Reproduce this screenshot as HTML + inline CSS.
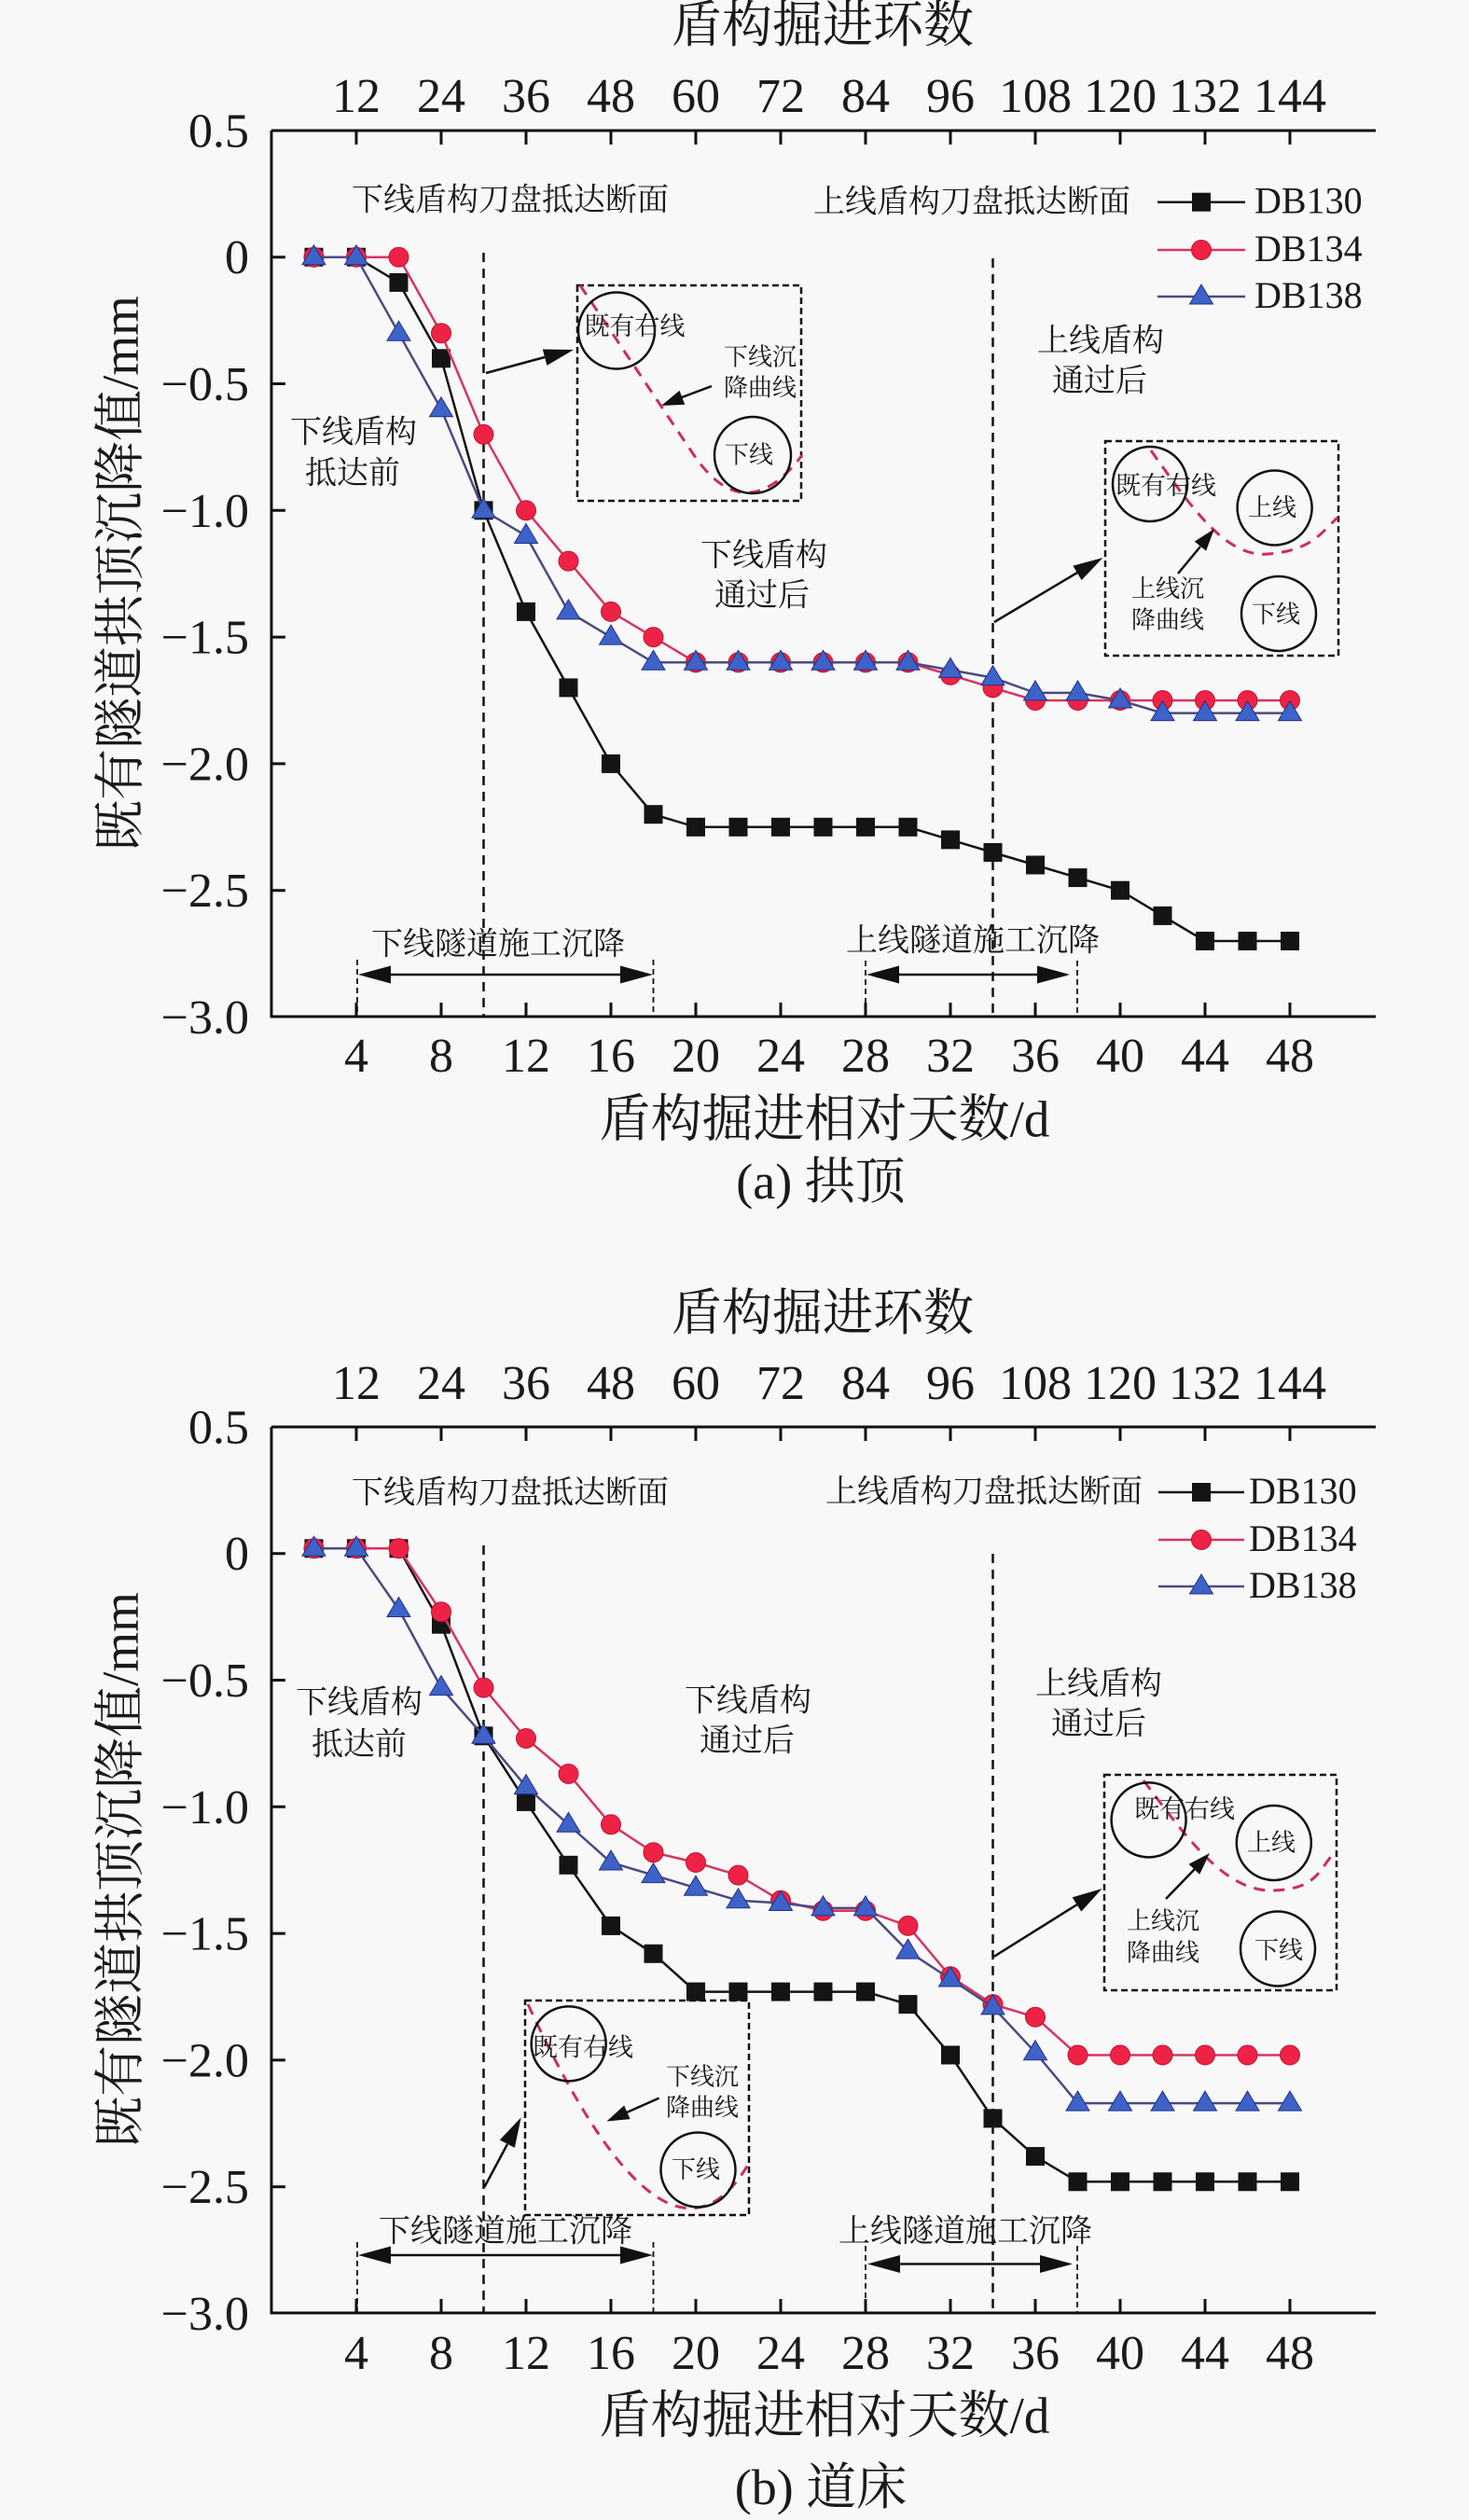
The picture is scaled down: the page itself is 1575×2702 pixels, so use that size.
<!DOCTYPE html>
<html><head><meta charset="utf-8"><style>
html,body{margin:0;padding:0;background:#f8f8f8;}
svg{display:block;}
text{font-family:"Liberation Serif","Noto Serif CJK SC",serif;fill:#1a1a1a;}
</style></head><body>
<svg width="1575" height="2702" viewBox="0 0 1575 2702" xmlns="http://www.w3.org/2000/svg">
<defs>
<marker id="sq" markerWidth="24" markerHeight="24" refX="12" refY="12" markerUnits="userSpaceOnUse" overflow="visible"><rect x="2" y="2" width="20" height="20" fill="#141414"/></marker>
<marker id="ci" markerWidth="24" markerHeight="24" refX="12" refY="12" markerUnits="userSpaceOnUse" overflow="visible"><circle cx="12" cy="12" r="10.5" fill="#ee2244" stroke="#b81838" stroke-width="1"/></marker>
<marker id="tr" markerWidth="26" markerHeight="26" refX="13" refY="14" markerUnits="userSpaceOnUse" overflow="visible"><polygon points="13,1 25.5,22 0.5,22" fill="#3d62c8" stroke="#24308a" stroke-width="1"/></marker>
</defs>
<rect width="1575" height="2702" fill="#f8f8f8"/>

<!-- ================= CHART A ================= -->
<g>
<text x="882" y="27" font-size="54" text-anchor="middle" dominant-baseline="central">盾构掘进环数</text>
<g font-size="52" text-anchor="middle">
<text x="382" y="120">12</text><text x="473" y="120">24</text><text x="564" y="120">36</text><text x="655" y="120">48</text><text x="746" y="120">60</text><text x="837" y="120">72</text><text x="928" y="120">84</text><text x="1019" y="120">96</text><text x="1110" y="120">108</text><text x="1201" y="120">120</text><text x="1292" y="120">132</text><text x="1383" y="120">144</text>
</g>
<g font-size="52" text-anchor="end">
<text x="267" y="157.5">0.5</text><text x="267" y="293.2">0</text><text x="267" y="429">−0.5</text><text x="267" y="564.8">−1.0</text><text x="267" y="700.6">−1.5</text><text x="267" y="836.4">−2.0</text><text x="267" y="972.2">−2.5</text><text x="267" y="1108">−3.0</text>
</g>
<g font-size="52" text-anchor="middle">
<text x="382" y="1149">4</text><text x="473" y="1149">8</text><text x="564" y="1149">12</text><text x="655" y="1149">16</text><text x="746" y="1149">20</text><text x="837" y="1149">24</text><text x="928" y="1149">28</text><text x="1019" y="1149">32</text><text x="1110" y="1149">36</text><text x="1201" y="1149">40</text><text x="1292" y="1149">44</text><text x="1383" y="1149">48</text>
</g>
<text x="884" y="1200" font-size="55" text-anchor="middle" dominant-baseline="central">盾构掘进相对天数/d</text>
<text x="880" y="1267" font-size="54" text-anchor="middle" dominant-baseline="central">(a) 拱顶</text>
<text transform="translate(129,615) rotate(-90)" font-size="55" text-anchor="middle" dominant-baseline="central">既有隧道拱顶沉降值/mm</text>

<g stroke="#111" stroke-width="3" fill="none">
<path d="M291,140 H1475 M291,140 V1091 M290,1090 H1475"/>
<path d="M382,140v15M473,140v15M564,140v15M655,140v15M746,140v15M837,140v15M928,140v15M1019,140v15M1110,140v15M1201,140v15M1292,140v15M1383,140v15"/>
<path d="M382,1090v-15M473,1090v-15M564,1090v-15M655,1090v-15M746,1090v-15M837,1090v-15M928,1090v-15M1019,1090v-15M1110,1090v-15M1201,1090v-15M1292,1090v-15M1383,1090v-15"/>
<path d="M291,140h15M291,275.7h15M291,411.5h15M291,547.3h15M291,683.1h15M291,818.9h15M291,954.7h15"/>
</g>

<g stroke="#111" stroke-width="2.5" stroke-dasharray="10 7" fill="none">
<path d="M518.5,271 V1090 M1064.5,277 V1090"/>
</g>
<g stroke="#111" stroke-width="1.8" stroke-dasharray="6 4" fill="none">
<path d="M383,1029 V1090 M700.5,1029 V1090 M928,1030 V1090 M1155,1030 V1090"/>
</g>
<g stroke="#111" stroke-width="2.5"><path d="M415,1045 H669 M961,1045 H1115"/></g>
<g fill="#111">
<polygon points="384,1045 419,1035.5 419,1054.5"/><polygon points="700,1045 665,1035.5 665,1054.5"/>
<polygon points="929,1045 964,1035.5 964,1054.5"/><polygon points="1147,1045 1112,1035.5 1112,1054.5"/>
</g>
<g font-size="34" text-anchor="middle" dominant-baseline="central">
<text x="534" y="1013">下线隧道施工沉降</text>
<text x="1043" y="1009">上线隧道施工沉降</text>
<text x="547" y="215">下线盾构刀盘抵达断面</text>
<text x="1042" y="217">上线盾构刀盘抵达断面</text>
<text x="379" y="464">下线盾构</text><text x="378" y="508">抵达前</text>
<text x="819" y="596">下线盾构</text><text x="817" y="639">通过后</text>
<text x="1180" y="366">上线盾构</text><text x="1179" y="409">通过后</text>
</g>

<!-- inset box 1 -->
<rect x="619" y="306" width="240" height="231" fill="none" stroke="#111" stroke-width="2.5" stroke-dasharray="7 4"/>
<path d="M622,306 L742,485 Q798,570 860,488" fill="none" stroke="#d02a60" stroke-width="3" stroke-dasharray="12 9"/>
<g fill="none" stroke="#111" stroke-width="2.5"><circle cx="661" cy="354.5" r="41"/><circle cx="807" cy="488" r="41"/></g>
<g font-size="27" dominant-baseline="central">
<text x="626.5" y="350">既有右线</text>
<text x="776" y="383" font-size="26">下线沉</text><text x="776" y="416" font-size="26">降曲线</text>
<text x="803" y="488" font-size="26" text-anchor="middle">下线</text>
</g>
<g stroke="#111" stroke-width="2.5"><path d="M521,400 L584,383 M763,414 L731,426"/></g>
<g fill="#111"><polygon points="615,375 586.4,391.9 581.8,374.5"/><polygon points="709,435 734.3,433.8 728.5,418.8"/></g>

<!-- inset box 2 -->
<rect x="1185" y="473" width="250" height="230" fill="none" stroke="#111" stroke-width="2.5" stroke-dasharray="7 4"/>
<path d="M1234,483 C1280,548 1315,598 1360,594 S1415,573 1434,555" fill="none" stroke="#d02a60" stroke-width="3" stroke-dasharray="12 9"/>
<g fill="none" stroke="#111" stroke-width="2.5"><circle cx="1233" cy="519" r="40"/><circle cx="1366.6" cy="544.5" r="40"/><circle cx="1371" cy="658" r="40"/></g>
<g font-size="26" dominant-baseline="central">
<text x="1196" y="521" font-size="27">既有右线</text>
<text x="1364" y="544.5" text-anchor="middle">上线</text>
<text x="1368" y="659" text-anchor="middle">下线</text>
<text x="1213" y="631.5">上线沉</text><text x="1213" y="665">降曲线</text>
</g>
<g stroke="#111" stroke-width="2.5"><path d="M1066,667 L1155,614 M1263,615 L1287,586"/></g>
<g fill="#111"><polygon points="1182.5,598 1159.6,622 1150.4,606.6"/><polygon points="1302,567 1293.1,590.6 1280.7,580.6"/></g>

<!-- series A -->
<polyline fill="none" stroke="#141414" stroke-width="2.5" marker-start="url(#sq)" marker-mid="url(#sq)" marker-end="url(#sq)" points="336.5,275.7 382,275.7 427.5,302.9 473,384.3 518.5,547.3 564,655.9 609.5,737.4 655,818.9 700.5,873.2 746,886.8 791.5,886.8 837,886.8 882.5,886.8 928,886.8 973.5,886.8 1019,900.4 1064.5,914 1110,927.5 1155.5,941.1 1201,954.7 1246.5,981.9 1292,1009 1337.5,1009 1383,1009"/>
<polyline fill="none" stroke="#d8345e" stroke-width="2.5" marker-start="url(#ci)" marker-mid="url(#ci)" marker-end="url(#ci)" points="336.5,275.7 382,275.7 427.5,275.7 473,357.2 518.5,465.8 564,547.3 609.5,601.6 655,655.9 700.5,683.1 746,710.3 791.5,710.3 837,710.3 882.5,710.3 928,710.3 973.5,710.3 1019,723.8 1064.5,737.4 1110,751 1155.5,751 1201,751 1246.5,751 1292,751 1337.5,751 1383,751"/>
<polyline fill="none" stroke="#4a4a80" stroke-width="2.5" marker-start="url(#tr)" marker-mid="url(#tr)" marker-end="url(#tr)" points="336.5,275.7 382,275.7 427.5,357.2 473,438.7 518.5,547.3 564,574.5 609.5,655.9 655,683.1 700.5,710.3 746,710.3 791.5,710.3 837,710.3 882.5,710.3 928,710.3 973.5,710.3 1019,718.4 1064.5,726.6 1110,742.9 1155.5,742.9 1201,751 1246.5,764.6 1292,764.6 1337.5,764.6 1383,764.6"/>

<!-- legend A -->
<g stroke-width="2.5">
<line x1="1241" y1="216.7" x2="1335" y2="216.7" stroke="#141414"/>
<line x1="1241" y1="268" x2="1335" y2="268" stroke="#d8345e"/>
<line x1="1241" y1="318" x2="1335" y2="318" stroke="#4a4a80"/>
</g>
<rect x="1278" y="206.7" width="20" height="20" fill="#141414"/>
<circle cx="1288" cy="268" r="10.5" fill="#ee2244" stroke="#b81838" stroke-width="1"/>
<polygon points="1288,305 1300.5,326 1275.5,326" fill="#3d62c8" stroke="#24308a" stroke-width="1"/>
<g font-size="40">
<text x="1345" y="228.3">DB130</text><text x="1345" y="280">DB134</text><text x="1345" y="330">DB138</text>
</g>
</g>

<!-- ================= CHART B ================= -->
<g>
<text x="882" y="1408" font-size="54" text-anchor="middle" dominant-baseline="central">盾构掘进环数</text>
<g font-size="52" text-anchor="middle">
<text x="382" y="1500">12</text><text x="473" y="1500">24</text><text x="564" y="1500">36</text><text x="655" y="1500">48</text><text x="746" y="1500">60</text><text x="837" y="1500">72</text><text x="928" y="1500">84</text><text x="1019" y="1500">96</text><text x="1110" y="1500">108</text><text x="1201" y="1500">120</text><text x="1292" y="1500">132</text><text x="1383" y="1500">144</text>
</g>
<g font-size="52" text-anchor="end">
<text x="267" y="1547.5">0.5</text><text x="267" y="1683.2">0</text><text x="267" y="1819">−0.5</text><text x="267" y="1954.8">−1.0</text><text x="267" y="2090.6">−1.5</text><text x="267" y="2226.4">−2.0</text><text x="267" y="2362.2">−2.5</text><text x="267" y="2498">−3.0</text>
</g>
<g font-size="52" text-anchor="middle">
<text x="382" y="2540">4</text><text x="473" y="2540">8</text><text x="564" y="2540">12</text><text x="655" y="2540">16</text><text x="746" y="2540">20</text><text x="837" y="2540">24</text><text x="928" y="2540">28</text><text x="1019" y="2540">32</text><text x="1110" y="2540">36</text><text x="1201" y="2540">40</text><text x="1292" y="2540">44</text><text x="1383" y="2540">48</text>
</g>
<text x="884" y="2590" font-size="55" text-anchor="middle" dominant-baseline="central">盾构掘进相对天数/d</text>
<text x="880" y="2667" font-size="54" text-anchor="middle" dominant-baseline="central">(b) 道床</text>
<text transform="translate(129,2005) rotate(-90)" font-size="55" text-anchor="middle" dominant-baseline="central">既有隧道拱顶沉降值/mm</text>

<g stroke="#111" stroke-width="3" fill="none">
<path d="M291,1530 H1475 M291,1530 V2481 M290,2480 H1475"/>
<path d="M382,1530v15M473,1530v15M564,1530v15M655,1530v15M746,1530v15M837,1530v15M928,1530v15M1019,1530v15M1110,1530v15M1201,1530v15M1292,1530v15M1383,1530v15"/>
<path d="M382,2480v-15M473,2480v-15M564,2480v-15M655,2480v-15M746,2480v-15M837,2480v-15M928,2480v-15M1019,2480v-15M1110,2480v-15M1201,2480v-15M1292,2480v-15M1383,2480v-15"/>
<path d="M291,1530h15M291,1665.7h15M291,1801.5h15M291,1937.3h15M291,2073.1h15M291,2208.9h15M291,2344.7h15"/>
</g>

<g stroke="#111" stroke-width="2.5" stroke-dasharray="10 7" fill="none">
<path d="M518.5,1657 V2480 M1064.5,1666 V2480"/>
</g>
<g stroke="#111" stroke-width="1.8" stroke-dasharray="6 4" fill="none">
<path d="M383,2404 V2480 M700.5,2404 V2480 M928,2408 V2480 M1155,2408 V2480"/>
</g>
<g stroke="#111" stroke-width="2.5"><path d="M415,2418 H669 M962,2427.5 H1118"/></g>
<g fill="#111">
<polygon points="384,2418 419,2408.5 419,2427.5"/><polygon points="700,2418 665,2408.5 665,2427.5"/>
<polygon points="930,2427.5 965,2418 965,2437"/><polygon points="1150,2427.5 1115,2418 1115,2437"/>
</g>
<g font-size="34" text-anchor="middle" dominant-baseline="central">
<text x="542" y="2393">下线隧道施工沉降</text>
<text x="1035" y="2393">上线隧道施工沉降</text>
<text x="547" y="1601">下线盾构刀盘抵达断面</text>
<text x="1055" y="1600">上线盾构刀盘抵达断面</text>
<text x="385" y="1826">下线盾构</text><text x="385" y="1871">抵达前</text>
<text x="802" y="1824">下线盾构</text><text x="801" y="1867">通过后</text>
<text x="1178" y="1806">上线盾构</text><text x="1178" y="1849">通过后</text>
</g>

<!-- inset box 1 B -->
<rect x="563" y="2145" width="240" height="230" fill="none" stroke="#111" stroke-width="2.5" stroke-dasharray="7 4"/>
<path d="M566,2149 Q714,2469 802,2321" fill="none" stroke="#d02a60" stroke-width="3" stroke-dasharray="12 9"/>
<g fill="none" stroke="#111" stroke-width="2.5"><circle cx="609.7" cy="2191.4" r="40"/><circle cx="748.5" cy="2326.5" r="40"/></g>
<g font-size="26" dominant-baseline="central">
<text x="571" y="2195.5" font-size="27">既有右线</text>
<text x="714" y="2227">下线沉</text><text x="714" y="2260">降曲线</text>
<text x="746" y="2326.5" text-anchor="middle">下线</text>
</g>
<g stroke="#111" stroke-width="2.5"><path d="M519.4,2345 L544,2299 M706.6,2249.6 L672,2265"/></g>
<g fill="#111"><polygon points="558.7,2270.4 551.8,2302.9 535.8,2294.5"/><polygon points="650.5,2274.5 675.6,2272.1 669.2,2257.5"/></g>

<!-- inset box 2 B -->
<rect x="1184" y="1903" width="249" height="231" fill="none" stroke="#111" stroke-width="2.5" stroke-dasharray="7 4"/>
<path d="M1226,1909 C1274,1973 1314,2028 1364,2027 S1414,2003 1432,1985" fill="none" stroke="#d02a60" stroke-width="3" stroke-dasharray="12 9"/>
<g fill="none" stroke="#111" stroke-width="2.5"><circle cx="1231.6" cy="1951.4" r="40"/><circle cx="1365.8" cy="1976" r="40"/><circle cx="1370" cy="2089.5" r="40"/></g>
<g font-size="26" dominant-baseline="central">
<text x="1216" y="1940" font-size="27">既有右线</text>
<text x="1363" y="1976" text-anchor="middle">上线</text>
<text x="1371" y="2091.6" text-anchor="middle">下线</text>
<text x="1208" y="2060">上线沉</text><text x="1208" y="2094">降曲线</text>
</g>
<g stroke="#111" stroke-width="2.5"><path d="M1065.8,2097.8 L1155,2042 M1250,2036 L1281,2004"/></g>
<g fill="#111"><polygon points="1181.6,2025 1159.3,2049.6 1149.7,2034.4"/><polygon points="1297,1987 1286.2,2009.8 1274.6,1998.8"/></g>

<!-- series B -->
<polyline fill="none" stroke="#141414" stroke-width="2.5" marker-start="url(#sq)" marker-mid="url(#sq)" marker-end="url(#sq)" points="336.5,1660.3 382,1660.3 427.5,1660.3 473,1741.7 518.5,1861.3 564,1931.9 609.5,1999.8 655,2064.9 700.5,2094.8 746,2135.6 791.5,2135.6 837,2135.6 882.5,2135.6 928,2135.6 973.5,2149.1 1019,2203.5 1064.5,2271.4 1110,2312.1 1155.5,2339.3 1201,2339.3 1246.5,2339.3 1292,2339.3 1337.5,2339.3 1383,2339.3"/>
<polyline fill="none" stroke="#d8345e" stroke-width="2.5" marker-start="url(#ci)" marker-mid="url(#ci)" marker-end="url(#ci)" points="336.5,1660.3 382,1660.3 427.5,1660.3 473,1728.2 518.5,1809.6 564,1864 609.5,1902 655,1956.3 700.5,1986.2 746,1997 791.5,2010.6 837,2037.8 882.5,2048.7 928,2048.7 973.5,2064.9 1019,2119.3 1064.5,2149.1 1110,2162.7 1155.5,2203.5 1201,2203.5 1246.5,2203.5 1292,2203.5 1337.5,2203.5 1383,2203.5"/>
<polyline fill="none" stroke="#4a4a80" stroke-width="2.5" marker-start="url(#tr)" marker-mid="url(#tr)" marker-end="url(#tr)" points="336.5,1660.3 382,1660.3 427.5,1725.5 473,1809.6 518.5,1861.3 564,1915.6 609.5,1956.3 655,1997 700.5,2010.6 746,2024.2 791.5,2037.8 837,2040.5 882.5,2045.9 928,2045.9 973.5,2092.1 1019,2122 1064.5,2151.9 1110,2200.7 1155.5,2255.1 1201,2255.1 1246.5,2255.1 1292,2255.1 1337.5,2255.1 1383,2255.1"/>

<!-- legend B -->
<g stroke-width="2.5">
<line x1="1242" y1="1600" x2="1334" y2="1600" stroke="#141414"/>
<line x1="1242" y1="1651" x2="1334" y2="1651" stroke="#d8345e"/>
<line x1="1242" y1="1701" x2="1334" y2="1701" stroke="#4a4a80"/>
</g>
<rect x="1278" y="1590" width="20" height="20" fill="#141414"/>
<circle cx="1288" cy="1651" r="10.5" fill="#ee2244" stroke="#b81838" stroke-width="1"/>
<polygon points="1288,1688 1300.5,1709 1275.5,1709" fill="#3d62c8" stroke="#24308a" stroke-width="1"/>
<g font-size="40">
<text x="1339" y="1612">DB130</text><text x="1339" y="1663">DB134</text><text x="1339" y="1713">DB138</text>
</g>
</g>
</svg>
</body></html>
